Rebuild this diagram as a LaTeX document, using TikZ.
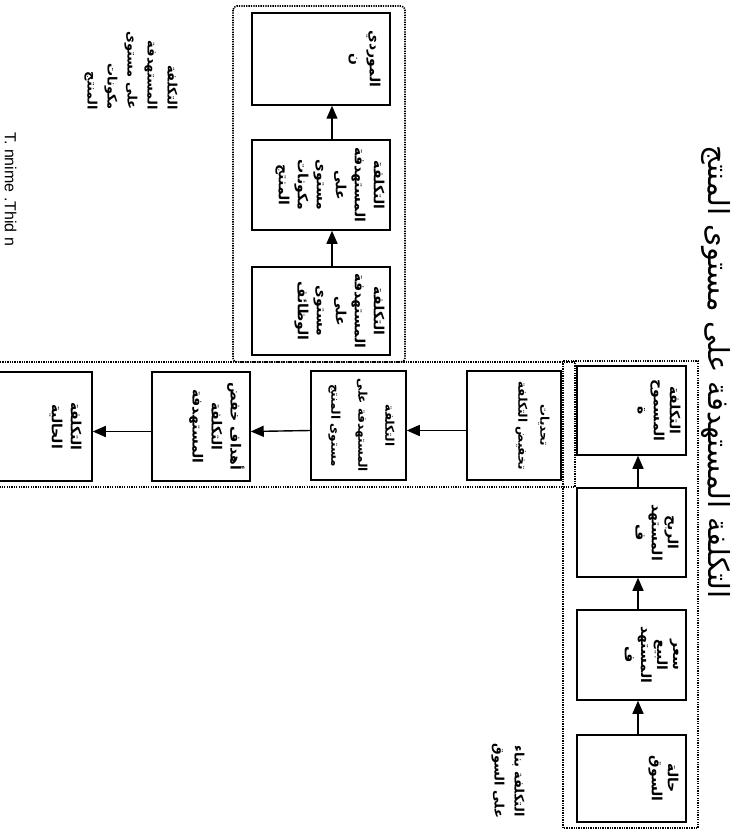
\documentclass[tikz,border=0pt]{standalone}
\usepackage{fontspec}
\setmainfont{Liberation Sans}
\newfontfamily\arabicfont[Script=Arabic]{DejaVu Sans}
\TeXXeTstate=1
\newcommand{\ar}[1]{\beginR #1\endR}
\usetikzlibrary{arrows.meta}

\tikzset{
  box/.style={draw, line width=1.5pt, rectangle, inner sep=0pt},
  boxtext/.style={font=\arabicfont\bfseries\fontsize{14}{19}\selectfont,
    align=center, inner sep=0pt, rotate=-90, anchor=north},
  tightlines/.style={font=\arabicfont\bfseries\fontsize{14}{16}\selectfont},
  smalltext/.style={font=\arabicfont\bfseries\fontsize{12}{#1}\selectfont},
  label/.style={font=\arabicfont\bfseries\fontsize{13}{20}\selectfont,
    inner sep=0pt, rotate=-90},
  arr/.style={line width=1.4pt, -{Triangle[length=13pt,width=11pt]}},
  frame/.style={line width=1.6pt, dash pattern=on 1.3pt off 1.1pt},
}

\begin{document}
\begin{tikzpicture}[x=1pt,y=-1pt]
\useasboundingbox (0,0) rectangle (738,832);

% dotted groupings
\draw[frame, rounded corners=4pt] (233,6) rectangle (405,362);
\draw[frame] (0,362) -- (575,362) -- (575,487) -- (0,487);
\draw[frame] (563,361) rectangle (698,828);

% upper column: functions -> components -> suppliers
\node[box, minimum width=138pt, minimum height=92pt] (U1) at (321,59) {};
\node[box, minimum width=138pt, minimum height=90pt] (U2) at (321,185) {};
\node[box, minimum width=138pt, minimum height=88pt] (U3) at (321,311) {};
\node[boxtext] (tU1) at ([xshift=-10pt]U1.east) {\ar{الموردي}\\\ar{ن}};
\node[boxtext] (tU2) at ([xshift=-6pt]U2.east)
  {\ar{التكلفة}\\\ar{المستهدفة}\\\ar{على}\\\ar{مستوى}\\\ar{مكونات}\\\ar{المنتج}};
\node[boxtext] (tU3) at ([xshift=-6pt]U3.east)
  {\ar{التكلفة}\\\ar{المستهدفة}\\\ar{على}\\\ar{مستوى}\\\ar{الوظائف}};
\draw[arr] ([xshift=11pt]U3.north) -- ([xshift=11pt]U2.south);
\draw[arr] ([xshift=11pt]U2.north) -- ([xshift=11pt]U1.south);

% middle row: product level chain
\node[box, minimum width=94pt, minimum height=109pt] (M1) at (514,425.5) {};
\node[box, minimum width=95pt, minimum height=109pt] (M2) at (358.5,425.5) {};
\node[box, minimum width=98pt, minimum height=109pt] (M3) at (201,426.5) {};
\node[box, minimum width=102pt, minimum height=109pt] (M4) at (41,426.5) {};
\node[boxtext, smalltext=22] (tM1) at ([xshift=-12pt]M1.east) {\ar{تحديات}\\\ar{تخفيض التكلفة}};
\node[boxtext, smalltext=27] (tM2) at ([xshift=-12pt]M2.east)
  {\ar{التكلفة}\\\ar{المستهدفة على}\\\ar{مستوى المنتج}};
\node[boxtext] (tM3) at ([xshift=-6pt]M3.east)
  {\ar{أهداف خفض}\\\ar{التكلفة}\\\ar{المستهدفة}};
\node[boxtext] (tM4) at ([xshift=-11pt]M4.east) {\ar{التكلفة}\\\ar{الحالية}};
\draw[arr] ([yshift=-5pt]M1.west) -- ([yshift=-5pt]M2.east);
\draw[arr] ([yshift=-5pt]M2.west) -- ([yshift=-5pt]M3.east);
\draw[arr] ([yshift=-5pt]M3.west) -- ([yshift=-5pt]M4.east);

% right column: market -> price -> profit -> allowable cost
\node[box, minimum width=109pt, minimum height=89pt] (R1) at (631.5,410.5) {};
\node[box, minimum width=109pt, minimum height=89pt] (R2) at (631.5,532.5) {};
\node[box, minimum width=109pt, minimum height=90pt] (R3) at (631.5,655) {};
\node[box, minimum width=109pt, minimum height=87pt] (R4) at (631.5,778.5) {};
\node[boxtext, tightlines] (tR1) at ([xshift=-6pt]R1.east) {\ar{التكلفة}\\\ar{المسموح}\\\ar{ة}};
\node[boxtext, tightlines] (tR2) at ([xshift=-8pt]R2.east) {\ar{الربح}\\\ar{المستهد}\\\ar{ف}};
\node[boxtext, tightlines] (tR3) at ([xshift=-8pt]R3.east)
  {\ar{سعر}\\\ar{البيع}\\\ar{المستهد}\\\ar{ف}};
\node[boxtext, tightlines] (tR4) at ([xshift=-8pt]R4.east) {\ar{حالة}\\\ar{السوق}};
\draw[arr] ([xshift=6.5pt]R4.north) -- ([xshift=6.5pt]R3.south);
\draw[arr] ([xshift=6.5pt]R3.north) -- ([xshift=6.5pt]R2.south);
\draw[arr] ([xshift=6.5pt]R2.north) -- ([xshift=6.5pt]R1.south);

% title and side labels
\node[font=\arabicfont\fontsize{29}{32}\selectfont, inner sep=0pt, rotate=-90]
  (title) at (716,372) {\ar{التكلفة المستهدفة على مستوى المنتج}};
\node[label, align=right, anchor=east] (lblComp) at (131,110)
  {\ar{التكلفة}\\\ar{المستهدفة}\\\ar{على مستوى}\\\ar{مكونات}\\\ar{المنتج}};
\node[label, align=center] (lblMarket) at (508,781)
  {\ar{التكلفة بناء}\\\ar{على السوق}};
\node[font=\fontsize{16}{18}\selectfont, inner sep=0pt, rotate=-90, anchor=base west]
  (source) at (5,132) {T. nnime .Thid n};
\end{tikzpicture}
\end{document}
